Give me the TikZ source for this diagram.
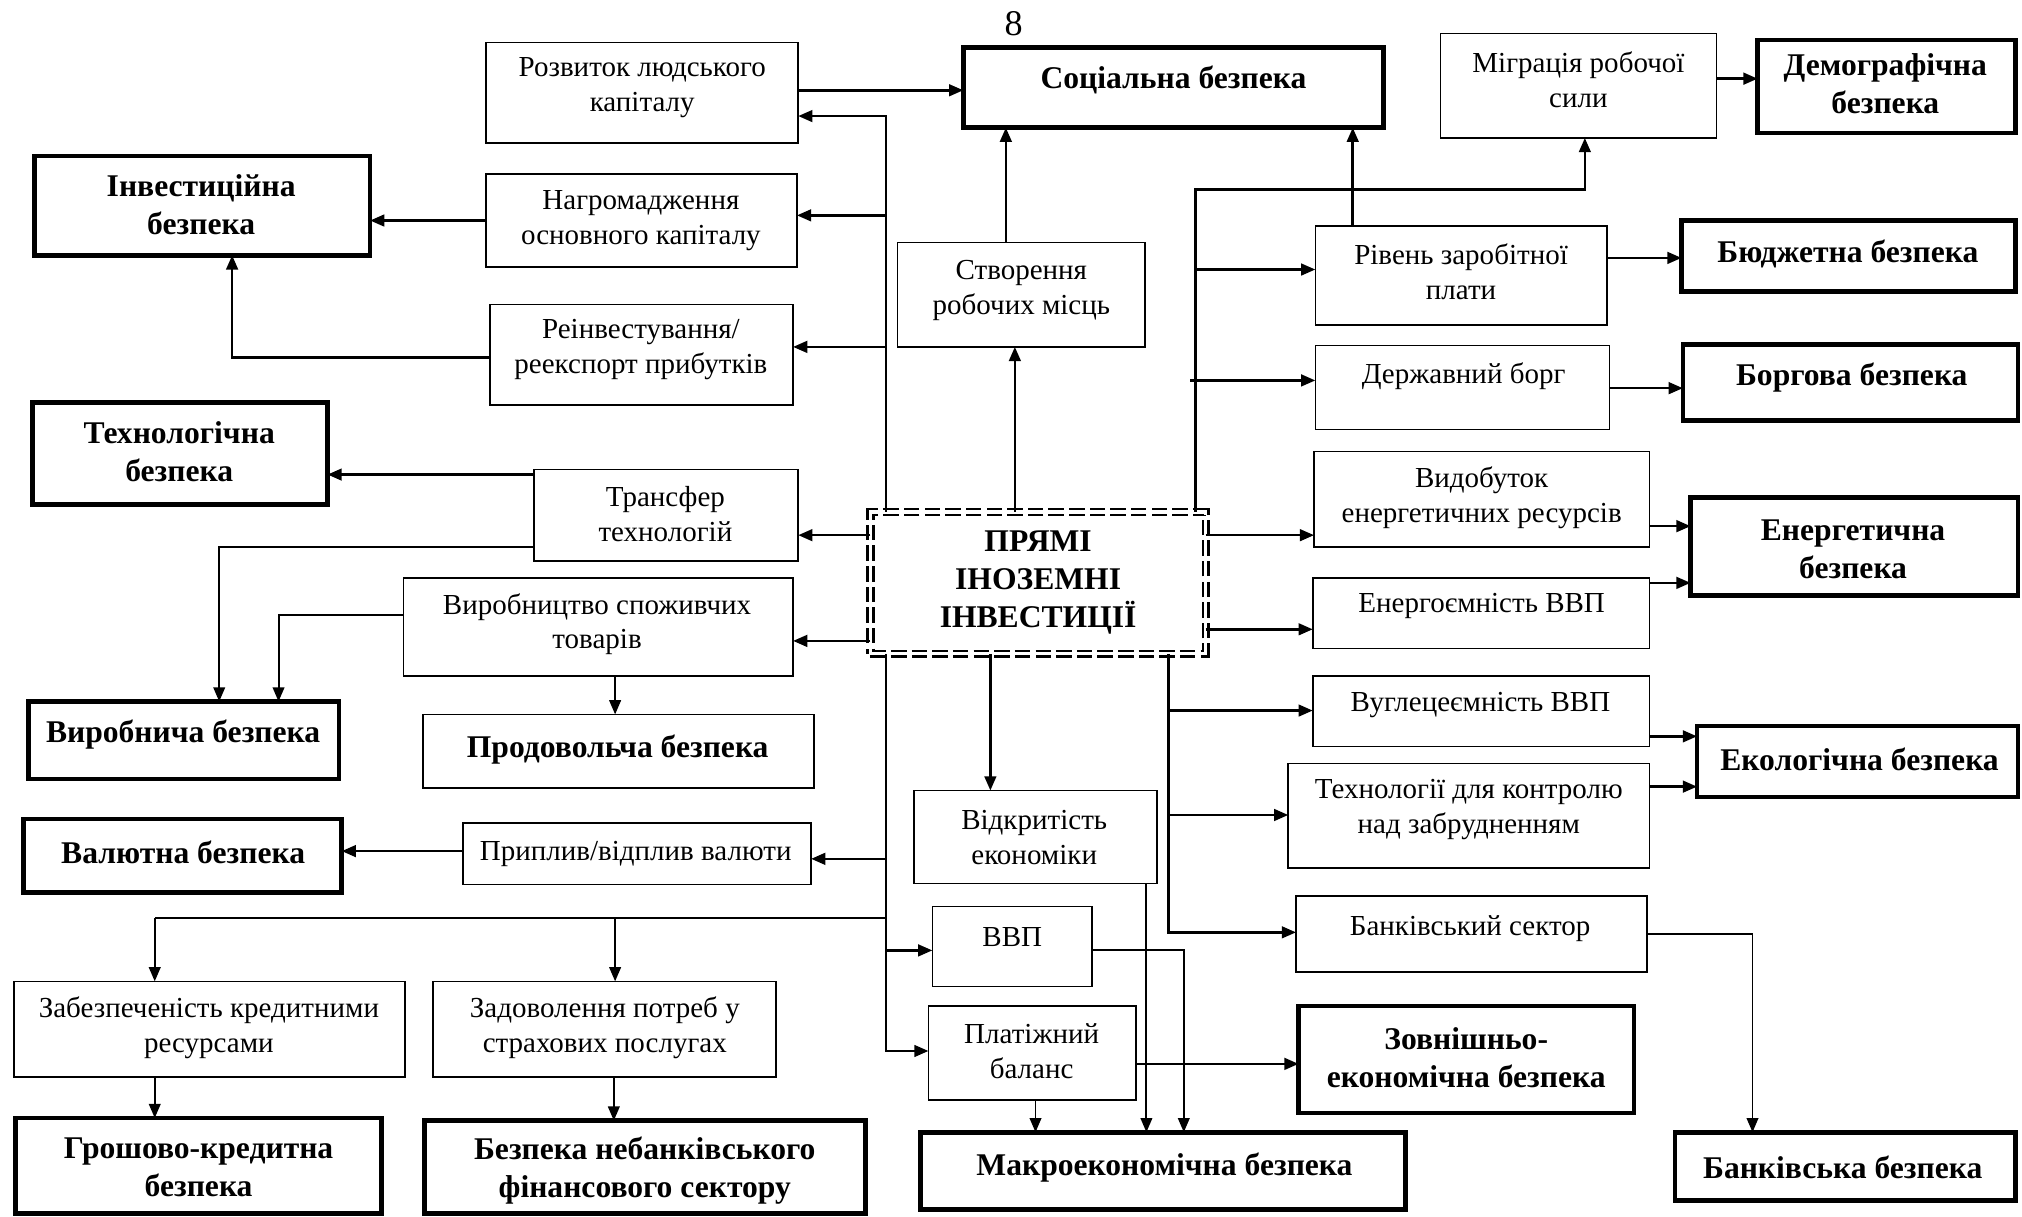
\documentclass[tikz,border=0pt]{standalone}
\usepackage{fontspec}
\setmainfont{Liberation Serif}
\usetikzlibrary{arrows.meta}
\newcommand{\boxat}[6]{%
  \node[#1, minimum width={(#5)-(#3)}, minimum height={(#6)-(#4)}] (#2) at ({((#3)+(#5))/2},{((#4)+(#6))/2}) {};}
\begin{document}
\begin{tikzpicture}[x=1pt,y=-1pt,
  tb/.style={draw, rectangle, line width=1.3pt, inner sep=0pt, outer sep=0pt, fill=white},
  kb/.style={draw, rectangle, line width=3.6pt, inner sep=0pt, outer sep=0pt, fill=white},
  db/.style={draw, rectangle, line width=2pt, double, double distance=2.4pt, dash pattern=on 12pt off 4pt, inner sep=0pt, outer sep=0pt, fill=white},
  rt/.style={font=\fontsize{22.5}{27}\selectfont, align=center, inner sep=0pt},
  bt/.style={font=\fontsize{24.5}{29.5}\selectfont\bfseries, align=center, inner sep=0pt},
  arr/.style={line width=2pt, -{Triangle[length=11pt,width=9pt]}},
  ar2/.style={line width=1.5pt, -{Triangle[length=11pt,width=9pt]}},
  ln/.style={line width=2pt},
  ln2/.style={line width=1.5pt}]
\useasboundingbox (0,0) rectangle (1568,943);

% ---------- boxes ----------
\boxat{tb}{razv}{377}{33}{619}{111}
\boxat{kb}{soc}{747}{37}{1073}{99}
\boxat{tb}{migr}{1117}{26}{1331}{107}
\boxat{kb}{demo}{1363}{31}{1563}{103}
\boxat{kb}{inv}{27}{121}{287}{198}
\boxat{tb}{nagr}{377}{135}{618}{207}
\boxat{tb}{stvor}{696}{188}{888}{269}
\boxat{tb}{riv}{1020}{175}{1246}{252}
\boxat{kb}{budg}{1304}{171}{1563}{226}
\boxat{tb}{reinv}{380}{236}{615}{314}
\boxat{tb}{derzh}{1020}{268}{1248}{333}
\boxat{kb}{borg}{1305}{267}{1565}{326}
\boxat{kb}{tech}{25}{312}{254}{391}
\boxat{tb}{transf}{414}{364}{619}{435}
\boxat{tb}{vydob}{1019}{350}{1279}{424}
\boxat{kb}{energ}{1311}{386}{1565}{462}
\boxat{db}{pii}{675}{397}{935}{507}
\boxat{tb}{vyrob}{313}{448}{615}{524}
\boxat{tb}{energem}{1018}{448}{1279}{503}
\boxat{kb}{vyrbez}{22}{544}{263}{604}
\boxat{tb}{prod}{328}{554}{631}{611}
\boxat{tb}{vugl}{1018}{524}{1279}{579}
\boxat{kb}{ekol}{1316}{563}{1565}{618}
\boxat{tb}{vidkr}{709}{613}{897}{685}
\boxat{tb}{tekhn}{999}{592}{1279}{673}
\boxat{kb}{valut}{18}{635}{265}{692}
\boxat{tb}{prypl}{359}{638}{629}{686}
\boxat{tb}{vvp}{723}{703}{847}{765}
\boxat{tb}{bank}{1005}{695}{1277}{754}
\boxat{tb}{zabez}{11}{761}{314}{835}
\boxat{tb}{zadov}{336}{761}{602}{835}
\boxat{tb}{plat}{720}{780}{881}{853}
\boxat{kb}{zovn}{1007}{780}{1267}{863}
\boxat{kb}{grosh}{12}{867}{296}{941}
\boxat{kb}{nebank}{329}{869}{671}{941}
\boxat{kb}{makro}{714}{878}{1090}{938}
\boxat{kb}{bankbez}{1299}{878}{1563}{931}

\coordinate (LB) at (687,0);
\coordinate (RB) at (927,0);
\coordinate (RB2) at (906,0);
\coordinate (HL) at (120,712);
\coordinate (HM) at (477,712);

% ---------- connectors ----------
\draw[arr] (razv.east |- 0,70) -- (soc.west |- 0,70);
\draw[arr] (pii.north -| LB) |- (razv.east |- 0,90);
\draw[arr] (LB |- 0,167) -- (nagr.east |- 0,167);
\draw[arr] (LB |- 0,269) -- (reinv.east |- 0,269);
\draw[arr] (nagr.west |- 0,171) -- (inv.east |- 0,171);
\draw[arr] (reinv.west |- 0,277) -| (inv.south -| 180,0);
\draw[arr] (stvor.north -| 780,0) -- (soc.south -| 780,0);
\draw[arr] (pii.north -| 787,0) -- (stvor.south -| 787,0);
\draw[arr] (pii.north -| RB) |- (1229,147) -- (migr.south -| 1229,0);
\draw[arr] (RB |- 0,209) -- (riv.west |- 0,209);
\draw[arr] (923,295) -- (derzh.west |- 0,295);
\draw[arr] (riv.north -| 1049,0) -- (soc.south -| 1049,0);
\draw[arr] (riv.east |- 0,200) -- (budg.west |- 0,200);
\draw[arr] (migr.east |- 0,61) -- (demo.west |- 0,61);
\draw[arr] (derzh.east |- 0,301) -- (borg.west |- 0,301);
\draw[arr] (pii.east |- 0,415) -- (vydob.west |- 0,415);
\draw[arr] (pii.east |- 0,488) -- (energem.west |- 0,488);
\draw[arr] (vydob.east |- 0,408) -- (energ.west |- 0,408);
\draw[arr] (energem.east |- 0,452) -- (energ.west |- 0,452);
\draw[arr] (pii.south -| RB2) |- (bank.west |- 0,723);
\draw[arr] (RB2 |- 0,551) -- (vugl.west |- 0,551);
\draw[arr] (RB2 |- 0,632) -- (tekhn.west |- 0,632);
\draw[arr] (vugl.east |- 0,571) -- (ekol.west |- 0,571);
\draw[arr] (tekhn.east |- 0,610) -- (ekol.west |- 0,610);
\draw[ar2] (bank.east |- 0,724) -| (bankbez.north -| 1359,0);
\draw[arr] (pii.west |- 0,415) -- (transf.east |- 0,415);
\draw[arr] (pii.west |- 0,497) -- (vyrob.east |- 0,497);
\draw[arr] (transf.west |- 0,368) -- (tech.east |- 0,368);
\draw[ar2] (transf.west |- 0,424) -| (vyrbez.north -| 170,0);
\draw[ar2] (vyrob.west |- 0,477) -| (vyrbez.north -| 216,0);
\draw[ar2] (vyrob.south -| 477,0) -- (prod.north -| 477,0);
\draw[arr] (pii.south -| LB) |- (plat.west |- 0,815);
\draw[arr] (LB |- 0,666) -- (prypl.east |- 0,666);
\draw[arr] (LB |- 0,737) -- (vvp.west |- 0,737);
\draw[ln] (LB |- HL) -- (HL);
\draw[ar2] (HL) -- (zabez.north -| HL);
\draw[ar2] (HM) -- (zadov.north -| HM);
\draw[arr] (prypl.west |- 0,660) -- (valut.east |- 0,660);
\draw[ar2] (zabez.south -| 120,0) -- (grosh.north -| 120,0);
\draw[ar2] (zadov.south -| 476,0) -- (nebank.north -| 476,0);
\draw[arr] (pii.south -| 768,0) -- (vidkr.north -| 768,0);
\draw[ar2] (vidkr.south -| 889,0) -- (makro.north -| 889,0);
\draw[ar2] (vvp.east |- 0,737) -| (makro.north -| 918,0);
\draw[ar2] (plat.south -| 803,0) -- (makro.north -| 803,0);
\draw[arr] (plat.east |- 0,825) -- (zovn.west |- 0,825);

% ---------- texts ----------
\node[rt, font=\fontsize{28}{32}\selectfont] (pnum) at (786,18) {8};
\node[rt] (razvT) at (498,68) {Розвиток людського\\капіталу};
\node[bt] (socT) at (910,62) {Соціальна безпека};
\node[rt] (migrT) at (1224,62) {Міграція робочої\\сили};
\node[bt] (demoT) at (1462,65) {Демографічна\\безпека};
\node[bt] (invT) at (156,158.5) {Інвестиційна\\безпека};
\node[rt] (nagrT) at (497,171) {Нагромадження\\основного капіталу};
\node[rt] (stvorT) at (792,225) {Створення\\робочих місць};
\node[rt] (rivT) at (1133,211) {Рівень заробітної\\плати};
\node[bt] (budgT) at (1433,197) {Бюджетна безпека};
\node[rt] (reinvT) at (497,271) {Реінвестування/\\реекспорт прибутків};
\node[rt] (derzhT) at (1135,292) {Державний борг};
\node[bt] (borgT) at (1436,293) {Боргова безпека};
\node[bt] (techT) at (139,350) {Технологічна\\безпека};
\node[rt] (transfT) at (516,398.5) {Трансфер\\технологій};
\node[rt] (vydobT) at (1149,386) {Видобуток\\енергетичних ресурсів};
\node[bt] (energT) at (1437,426) {Енергетична\\безпека};
\node[bt] (piiT) at (805,451.5) {ПРЯМІ\\ІНОЗЕМНІ\\ІНВЕСТИЦІЇ};
\node[rt] (vyrobT) at (463,484) {Виробництво споживчих\\товарів};
\node[rt] (energemT) at (1149,470) {Енергоємність ВВП};
\node[bt] (vyrbezT) at (142,570) {Виробнича безпека};
\node[bt] (prodT) at (479,581) {Продовольча безпека};
\node[rt] (vuglT) at (1148,547) {Вуглецеємність ВВП};
\node[bt] (ekolT) at (1442,589) {Екологічна безпека};
\node[rt] (vidkrT) at (802,649.5) {Відкритість\\економіки};
\node[rt] (tekhnT) at (1139,628) {Технології для контролю\\над забрудненням};
\node[bt] (valutT) at (142,661) {Валютна безпека};
\node[rt] (pryplT) at (493,662) {Приплив/відплив валюти};
\node[rt] (vvpT) at (785,727) {ВВП};
\node[rt] (bankT) at (1140,720) {Банківський сектор};
\node[rt] (zabezT) at (162,797) {Забезпеченість кредитними\\ресурсами};
\node[rt] (zadovT) at (469,797) {Задоволення потреб у\\страхових послугах};
\node[rt] (platT) at (800,815) {Платіжний\\баланс};
\node[bt] (zovnT) at (1137,820) {Зовнішньо-\\економічна безпека};
\node[bt] (groshT) at (154,905.5) {Грошово-кредитна\\безпека};
\node[bt] (nebankT) at (500,907.5) {Безпека небанківського\\фінансового сектору};
\node[bt] (makroT) at (903,905) {Макроекономічна безпека};
\node[bt] (bankbezT) at (1429,905) {Банківська безпека};
\end{tikzpicture}
\end{document}
